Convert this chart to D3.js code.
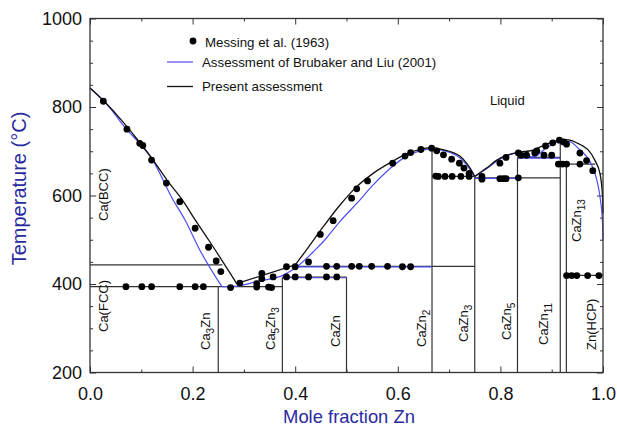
<!DOCTYPE html>
<html>
<head>
<meta charset="utf-8">
<script src="https://cdn.jsdelivr.net/npm/d3@7/dist/d3.min.js"></script>
<style>
body { margin: 0; background: #fff; }
text { font-family: "Liberation Sans", Arial, sans-serif; }
</style>
</head>
<body>
<svg width="617" height="428"></svg>
<script>
// tick values
var xTicks = [0, 0.2, 0.4, 0.6, 0.8, 1.0];
var xMinor = [0.1, 0.3, 0.5, 0.7, 0.9];
var yTicks = [200, 400, 600, 800, 1000];
var yMinor = [250, 300, 350, 450, 500, 550, 650, 700, 750, 850, 900, 950];

// Messing et al. (1963) points [x Zn, T]
var messing = [
  [0.026,813],[0.072,750],[0.097,718],[0.103,713],[0.120,680],[0.149,628],[0.175,586],
  [0.205,526],[0.231,483],[0.246,452],[0.255,428],
  [0.070,394],[0.101,394],[0.120,394],[0.175,394],[0.205,394],[0.221,394],[0.274,392],
  [0.325,393],[0.348,393],[0.354,392],
  [0.292,402],[0.325,401],[0.335,424],[0.335,412],[0.357,416],[0.383,416],[0.400,416],
  [0.426,416],[0.461,416],[0.481,416],
  [0.383,439],[0.400,439],[0.461,440],[0.481,440],[0.510,440],[0.525,440],[0.549,440],
  [0.580,440],[0.609,439],[0.625,439],
  [0.426,450],[0.449,512],[0.474,543],[0.510,594],[0.520,615],[0.541,633],[0.590,673],
  [0.614,689],[0.625,697],[0.645,704],[0.666,707],[0.676,701],[0.689,692],[0.705,682],
  [0.720,673],[0.729,662],[0.739,650],
  [0.674,644],[0.679,643],[0.692,643],[0.706,643],[0.723,643],[0.739,643],
  [0.764,643],[0.764,637],[0.799,638],[0.806,638],[0.811,638],[0.835,640],
  [0.799,673],[0.811,686],[0.835,696],[0.840,691],[0.851,691],[0.867,696],[0.871,701],
  [0.885,691],[0.900,691],[0.888,712],[0.902,719],[0.915,725],[0.923,721],[0.929,716],
  [0.955,696],[0.968,679],[0.980,656],
  [0.913,671],[0.921,671],[0.929,671],[0.955,671],
  [0.929,419],[0.939,419],[0.949,419],[0.970,419],[0.992,419]
];

// present assessment (black) liquidus pieces
var presentCa = [[0,843],[0.03,810],[0.06,772],[0.09,730],[0.12,685],[0.15,635],[0.18,590],[0.205,545],[0.231,500],[0.286,401]];
var presentPeri = [[0.286,401],[0.40,443]];
var presentCaZn2L = [[0.40,443],[0.422,477],[0.455,530],[0.487,578],[0.52,620],[0.552,650],[0.585,674],[0.617,694],[0.645,705],[0.667,708]];
var presentCaZn2R = [[0.667,708],[0.69,703],[0.708,697],[0.722,688],[0.734,673],[0.743,658],[0.75,643]];
var presentCaZn5 = [[0.75,643],[0.773,662],[0.793,680],[0.813,691],[0.838,698],[0.862,702],[0.885,714],[0.917,727]];
var presentZn = [[0.917,727],[0.935,725],[0.949,719],[0.962,711],[0.971,703],[0.984,680],[0.994,650],[0.999,600],[1.0,560]];

// Brubaker and Liu (2001) (blue) liquidus pieces
var brubakerCa = [[0,843],[0.03,810],[0.071,750],[0.098,716],[0.12,684],[0.162,590],[0.185,545],[0.214,477],[0.257,394]];
var brubakerMid = [[0.257,394],[0.276,394],[0.33,407],[0.377,420],[0.40,436],[0.439,477],[0.455,496],[0.487,541],[0.52,582],[0.552,624],[0.585,661],[0.617,689],[0.643,701],[0.667,706]];
var brubakerCaZn2R = [[0.667,706],[0.70,698],[0.725,681],[0.74,660],[0.75,643]];
var brubakerCaZn5 = [[0.75,643],[0.77,658],[0.79,675],[0.81,688],[0.835,697],[0.864,687],[0.89,708],[0.917,725]];
var brubakerZn = [[0.917,725],[0.935,722],[0.955,703],[0.975,676],[0.988,635],[0.995,590],[0.999,540],[1.0,500]];

// invariant lines [x1, x2, T]
var presentFlat = [[0,0.258,443],[0,0.375,394],[0.375,0.5,415.5],[0.40,0.75,440],[0.667,0.75,643],
  [0.75,0.917,640],[0.833,0.917,686],[0.917,0.985,671],[0.929,1.0,419.5]];
var brubakerFlat = [[0.375,0.5,415.5],[0.40,0.667,440],[0.75,0.833,640],[0.833,0.917,686]];

// compounds [x Zn, top T]
var compounds = [[0.25,394],[0.375,415.5],[0.5,415.5],[0.6667,708],[0.75,643],[0.8333,686],[0.9167,727],[0.9286,671]];

// phase labels: [main, sub, main2, sub2]
var phaseNames = [["Ca(BCC)"],["Ca(FCC)"],["Ca","3","Zn"],["Ca","5","Zn","3"],["CaZn"],["CaZn","2"],
  ["CaZn","3"],["CaZn","5"],["CaZn","11"],["CaZn","13"],["Zn(HCP)"]];
var phasePos = [[108,221],[108,332],[210,350],[275,350],[340,347],[426,347],[468,342],[511,340],[548,345],[581,242],[596,350]];

var svg = d3.select("svg");
var x = d3.scaleLinear().domain([0, 1]).range([90, 603]);
var y = d3.scaleLinear().domain([200, 1000]).range([372.5, 18.5]);

var blue = "#4d4df2";
var ink = "#111";

var line = d3.line().x(d => x(d[0])).y(d => y(d[1])).curve(d3.curveMonotoneX);
var straight = d3.line().x(d => x(d[0])).y(d => y(d[1]));

// axes (ticks point inwards)
function axes(){
  svg.append("g").attr("transform", "translate(0,372.5)")
    .call(d3.axisBottom(x).tickValues(xTicks).tickSizeInner(-6).tickSizeOuter(0).tickPadding(15).tickFormat(d3.format(".1f")))
    .call(g => g.selectAll("text").attr("font-size", 18).attr("fill", ink));
  svg.append("g").attr("transform", "translate(0,372.5)")
    .call(d3.axisBottom(x).tickValues(xMinor).tickSizeInner(-3).tickSizeOuter(0).tickFormat(""));
  svg.append("g").attr("transform", "translate(0,18.5)")
    .call(d3.axisTop(x).tickValues(xTicks).tickSizeInner(-6).tickSizeOuter(0).tickFormat(""));
  svg.append("g").attr("transform", "translate(0,18.5)")
    .call(d3.axisTop(x).tickValues(xMinor).tickSizeInner(-3).tickSizeOuter(0).tickFormat(""));
  svg.append("g").attr("transform", "translate(90,0)")
    .call(d3.axisLeft(y).tickValues(yTicks).tickSizeInner(-6).tickSizeOuter(0).tickPadding(8).tickFormat(d3.format("d")))
    .call(g => g.selectAll("text").attr("font-size", 18).attr("fill", ink));
  svg.append("g").attr("transform", "translate(90,0)")
    .call(d3.axisLeft(y).tickValues(yMinor).tickSizeInner(-3).tickSizeOuter(0).tickFormat(""));
  svg.append("g").attr("transform", "translate(603,0)")
    .call(d3.axisRight(y).tickValues(yTicks).tickSizeInner(-6).tickSizeOuter(0).tickFormat(""));
  svg.append("g").attr("transform", "translate(603,0)")
    .call(d3.axisRight(y).tickValues(yMinor).tickSizeInner(-3).tickSizeOuter(0).tickFormat(""));
  svg.selectAll(".domain").remove();
  svg.selectAll(".tick line").attr("stroke", "#333").attr("stroke-width", 1);
}
axes();

// compound lines
svg.append("g").selectAll("line").data(compounds).join("line")
  .attr("x1", d => x(d[0])).attr("x2", d => x(d[0]))
  .attr("y1", y(200)).attr("y2", d => y(d[1]))
  .attr("stroke", "#333").attr("stroke-width", 1.2);

// invariant lines
svg.append("g").selectAll("line").data(presentFlat).join("line")
  .attr("x1", d => x(d[0])).attr("x2", d => x(d[1]))
  .attr("y1", d => y(d[2])).attr("y2", d => y(d[2]))
  .attr("stroke", "#333").attr("stroke-width", 1.2);
svg.append("g").selectAll("line").data(brubakerFlat).join("line")
  .attr("x1", d => x(d[0])).attr("x2", d => x(d[1]))
  .attr("y1", d => y(d[2]) + 0.6).attr("y2", d => y(d[2]) + 0.6)
  .attr("stroke", blue).attr("stroke-width", 1.2);

// liquidus curves
[brubakerCa, brubakerMid, brubakerCaZn2R, brubakerCaZn5, brubakerZn].forEach(function(p){
  svg.append("path").attr("d", line(p)).attr("fill", "none").attr("stroke", blue).attr("stroke-width", 1.2);
});
[presentCa, presentCaZn2L, presentCaZn2R, presentCaZn5, presentZn].forEach(function(p){
  svg.append("path").attr("d", line(p)).attr("fill", "none").attr("stroke", ink).attr("stroke-width", 1.3);
});
svg.append("path").attr("d", straight(presentPeri)).attr("fill", "none").attr("stroke", ink).attr("stroke-width", 1.3);

// data points
svg.append("g").selectAll("circle").data(messing).join("circle")
  .attr("cx", d => x(d[0])).attr("cy", d => y(d[1])).attr("r", 3.4).attr("fill", "#000");

// frame
svg.append("rect").attr("x", 90).attr("y", 18.5).attr("width", 513).attr("height", 354)
  .attr("fill", "none").attr("stroke", "#333").attr("stroke-width", 1.3);

// phase labels, rotated
phaseNames.forEach(function(n, i){
  var t = svg.append("text").attr("font-size", 13).attr("fill", ink)
    .attr("transform", "translate(" + phasePos[i][0] + "," + phasePos[i][1] + ") rotate(-90)");
  n.forEach(function(s, j){
    var sub = j % 2 == 1;
    t.append("tspan").attr("font-size", sub ? 10 : 13)
      .attr("dy", j == 0 ? 0 : (sub ? 4 : -4)).text(s);
  });
});

svg.append("text").attr("x", 490).attr("y", 105).attr("font-size", 13).attr("fill", ink).text("Liquid");

// axis titles
svg.append("text").attr("x", 349).attr("y", 423).attr("text-anchor", "middle")
  .attr("font-size", 18.4).attr("fill", "#2a2aa0").text("Mole fraction Zn");
svg.append("text").attr("transform", "translate(26,188.5) rotate(-90)").attr("text-anchor", "middle")
  .attr("font-size", 20).attr("fill", "#2a2aa0").text("Temperature (\u00b0C)");

// legend
var lg = svg.append("g").attr("font-size", 13.3).attr("fill", ink);
lg.append("circle").attr("cx", 193).attr("cy", 41).attr("r", 3.4).attr("fill", "#000");
lg.append("text").attr("x", 205).attr("y", 46.5).text("Messing et al. (1963)");
lg.append("line").attr("x1", 167).attr("x2", 193).attr("y1", 62).attr("y2", 62).attr("stroke", blue).attr("stroke-width", 1.2);
lg.append("text").attr("x", 202).attr("y", 66.5).text("Assessment of Brubaker and Liu (2001)");
lg.append("line").attr("x1", 167).attr("x2", 193).attr("y1", 86.5).attr("y2", 86.5).attr("stroke", ink).attr("stroke-width", 1.3);
lg.append("text").attr("x", 202).attr("y", 91).text("Present assessment");
</script>
</body>
</html>
